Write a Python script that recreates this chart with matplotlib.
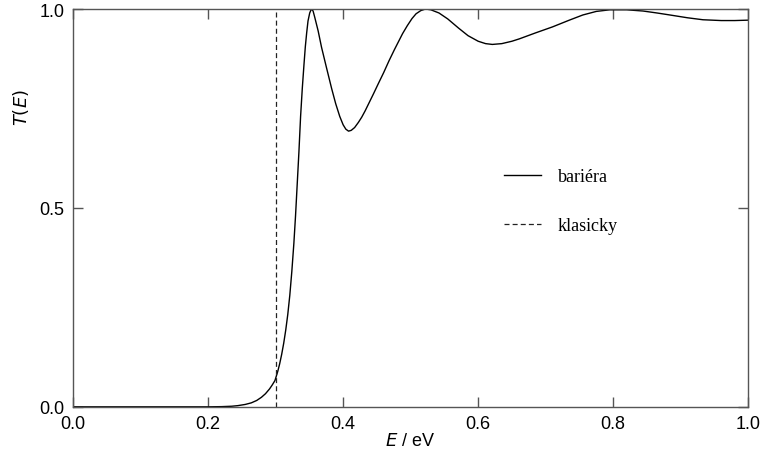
import matplotlib
matplotlib.use("Agg")
import matplotlib.pyplot as plt

# ---------------------------------------------------------
# DATA
# ---------------------------------------------------------

energy = [0.00, 0.10, 0.20, 0.22, 0.235, 0.244, 0.255, 0.264, 0.272, 0.279,
          0.285, 0.291, 0.295, 0.299, 0.303, 0.306, 0.309, 0.312, 0.315, 0.318,
          0.321, 0.324, 0.327, 0.3295, 0.332, 0.3345, 0.337, 0.3395, 0.342, 0.344,
          0.346, 0.348, 0.3505, 0.353, 0.3555, 0.358, 0.363, 0.368, 0.375, 0.383,
          0.389, 0.395, 0.40, 0.404, 0.408, 0.412, 0.417, 0.4226, 0.4275, 0.4326,
          0.4375, 0.445, 0.452, 0.46, 0.468, 0.476, 0.482, 0.488, 0.495, 0.502,
          0.508, 0.515, 0.522, 0.53, 0.542, 0.555, 0.571, 0.585, 0.60, 0.611,
          0.621, 0.635, 0.65, 0.661, 0.685, 0.71, 0.735, 0.755, 0.775, 0.795,
          0.82, 0.844, 0.865, 0.884, 0.91, 0.933, 0.96, 0.98, 1.00]
transmission = [0.0, 0.0, 0.0, 0.0005, 0.0015, 0.003, 0.006, 0.010, 0.016, 0.024,
                0.033, 0.045, 0.055, 0.066, 0.088, 0.108, 0.132, 0.16, 0.193, 0.232,
                0.28, 0.34, 0.41, 0.48, 0.56, 0.64, 0.73, 0.80, 0.86, 0.905,
                0.94, 0.97, 0.99, 1.0, 0.995, 0.979, 0.945, 0.904, 0.855, 0.80,
                0.762, 0.73, 0.709, 0.698, 0.693, 0.695, 0.702, 0.715, 0.728, 0.744,
                0.761, 0.787, 0.812, 0.84, 0.87, 0.898, 0.918, 0.938, 0.958, 0.976,
                0.988, 0.996, 1.0, 0.998, 0.99, 0.975, 0.952, 0.933, 0.919, 0.913,
                0.911, 0.913, 0.919, 0.925, 0.94, 0.955, 0.972, 0.985, 0.994, 0.998,
                0.998, 0.995, 0.99, 0.985, 0.978, 0.973, 0.971, 0.971, 0.972]

classical_edge = 0.3
x_ticks = [0.0, 0.2, 0.4, 0.6, 0.8, 1.0]
y_ticks = [0.0, 0.5, 1.0]
series_labels = ["bariéra", "klasicky"]

# ---------------------------------------------------------
# PLOT
# ---------------------------------------------------------

plt.rcParams["font.family"] = ["Liberation Sans", "DejaVu Sans"]

fig = plt.figure(figsize=(7.69, 4.77), dpi=100)
ax = fig.add_axes([0.095, 0.145, 0.878, 0.834])

ax.plot(energy, transmission, color="black", lw=1.0, label=series_labels[0])
ax.axvline(classical_edge, color="#222222", lw=0.9, dashes=(4, 2.5),
           label=series_labels[1])

ax.set_xlim(0, 1)
ax.set_ylim(0, 1)
ax.set_xticks(x_ticks)
ax.set_yticks(y_ticks)
ax.set_xticklabels([f"{v:.1f}" for v in x_ticks])
ax.set_yticklabels([f"{v:.1f}" for v in y_ticks])

ax.tick_params(direction="in", length=7, width=1.0, color="#555555",
               top=True, right=True, labelsize=13, pad=6)
for sp in ax.spines.values():
    sp.set_color("#555555")
    sp.set_linewidth(1.0)

ax.set_xlabel(r"$\mathit{E}$ / eV", fontsize=13, labelpad=0)
ax.set_ylabel(r"$\mathit{T(E)}$", fontsize=13)
ax.yaxis.set_label_coords(-0.062, 0.756)

leg = ax.legend(loc="center left", bbox_to_anchor=(0.639, 0.517),
                frameon=False, handlelength=2.0, handletextpad=0.95,
                labelspacing=1.8, borderpad=0, borderaxespad=0,
                prop={"family": "Liberation Serif", "size": 13})

fig.savefig("out.png", dpi=100)
